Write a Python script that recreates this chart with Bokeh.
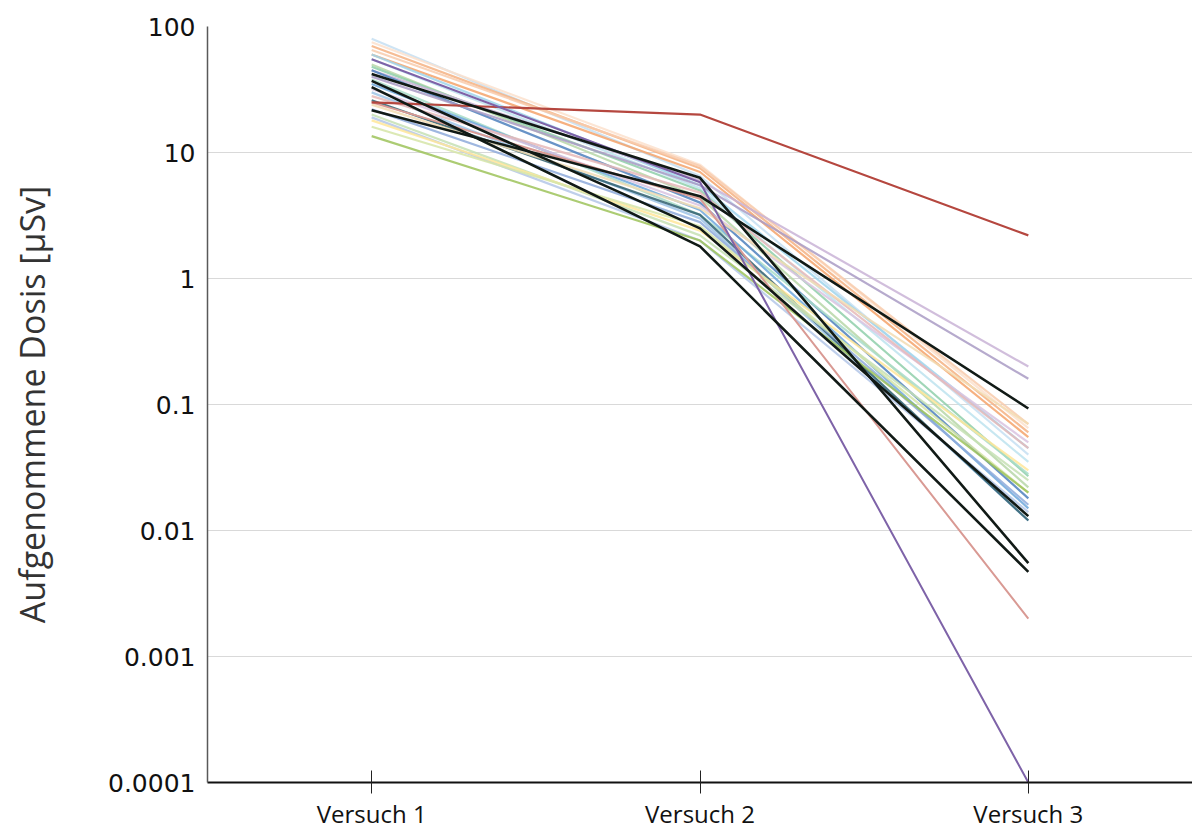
from bokeh.plotting import figure
from bokeh.models import FactorRange, Range1d, FixedTicker, CustomJSTickFormatter
from bokeh.embed import file_html
from bokeh.resources import INLINE

categories = ["Versuch 1", "Versuch 2", "Versuch 3"]

# dose per participant (µSv) for each trial
versuch1 = [80, 75, 70, 65, 60, 60, 55, 50, 48, 45, 45, 40, 38, 35, 32, 30, 28, 26, 24, 22, 20, 19, 18, 16, 13.5,
            25, 25, 55, 42, 21.6, 37, 33]
versuch2 = [6.5, 8.0, 7.5, 7.8, 7.0, 5.5, 5.2, 4.4, 5.0, 6.0, 4.0, 5.5, 3.2, 3.5, 3.8, 3.0, 4.8, 3.2, 3.6, 2.8, 2.2, 2.0, 2.4, 2.6, 2.0,
            4.3, 20, 5.8, 6.3, 4.5, 2.5, 1.8]
versuch3 = [0.04, 0.065, 0.06, 0.07, 0.055, 0.045, 0.035, 0.022, 0.027, 0.2, 0.018, 0.16, 0.028, 0.015, 0.05, 0.012, 0.045, 0.012, 0.07, 0.016, 0.025, 0.014, 0.03, 0.02, 0.02,
            0.002, 2.2, 0.0001, 0.0055, 0.093, 0.013, 0.0047]

colors = ["#c5dff2", "#fbe0cc", "#f4b183", "#f8cbad", "#f5a36b", "#9fd5ec", "#bde3ee", "#b7d7a8", "#8fcfaa", "#c9b3d6",
          "#4f81bd", "#a99bc4", "#a8dcc8", "#6fa8dc", "#d9c3e0", "#9dc3e6", "#e6b9b8", "#2f5f6f", "#f2dcb3", "#8eaadb",
          "#c6e0b4", "#b4c7e7", "#ffe699", "#d6e5a8", "#9dc35a",
          "#d99a94", "#b5473f", "#7e63a8", "#111a16", "#111a16", "#111a16", "#111a16"]
widths = [2.2] * 25 + [2, 2.2, 2, 2.6, 2.6, 2.6, 2.6]
alphas = [0.85] * 25 + [1, 1, 1, 1, 1, 1, 1]

p = figure(width=1192, height=832, x_range=FactorRange(*categories, range_padding=0),
           y_axis_type="log", y_range=Range1d(0.0001, 100),
           output_backend="svg", toolbar_location=None,
           min_border_left=207, min_border_right=0, min_border_top=26, min_border_bottom=50)

for i in range(len(versuch1)):
    p.line(categories, [versuch1[i], versuch2[i], versuch3[i]], line_color=colors[i],
           line_width=widths[i], line_alpha=alphas[i])

p.outline_line_color = None
p.xgrid.grid_line_color = None
p.ygrid.grid_line_color = "#d9d9d9"
p.ygrid.grid_line_width = 1.2

p.yaxis.ticker = FixedTicker(ticks=[0.0001, 0.001, 0.01, 0.1, 1, 10, 100], minor_ticks=[])
p.yaxis.formatter = CustomJSTickFormatter(code="""
    if (tick >= 1) { return tick.toFixed(0); }
    return tick.toFixed(Math.round(-Math.log10(tick)));
""")
p.yaxis.axis_label = "Aufgenommene Dosis [µSv]"
p.yaxis.axis_label_text_font = "Open Sans"
p.yaxis.axis_label_text_font_style = "normal"
p.yaxis.axis_label_text_font_size = "34px"
p.yaxis.axis_label_text_color = "#333333"
p.yaxis.axis_label_standoff = 50
p.yaxis.major_label_text_font = "DejaVu Sans"
p.yaxis.major_label_text_font_size = "25px"
p.yaxis.major_label_text_color = "#111111"
p.yaxis.major_label_standoff = 6
p.yaxis.major_tick_line_color = None
p.yaxis.minor_tick_line_color = None
p.yaxis.axis_line_color = "#595959"
p.yaxis.axis_line_width = 1.5

p.xaxis.major_label_text_font = "Open Sans"
p.xaxis.major_label_text_font_size = "24px"
p.xaxis.major_label_text_color = "#111111"
p.xaxis.major_label_standoff = 3
p.xaxis.major_tick_in = 12
p.xaxis.major_tick_out = 11
p.xaxis.major_tick_line_color = "#222222"
p.xaxis.axis_line_color = "#111111"
p.xaxis.axis_line_width = 2

open("out.html", "w").write(file_html(p, INLINE))
